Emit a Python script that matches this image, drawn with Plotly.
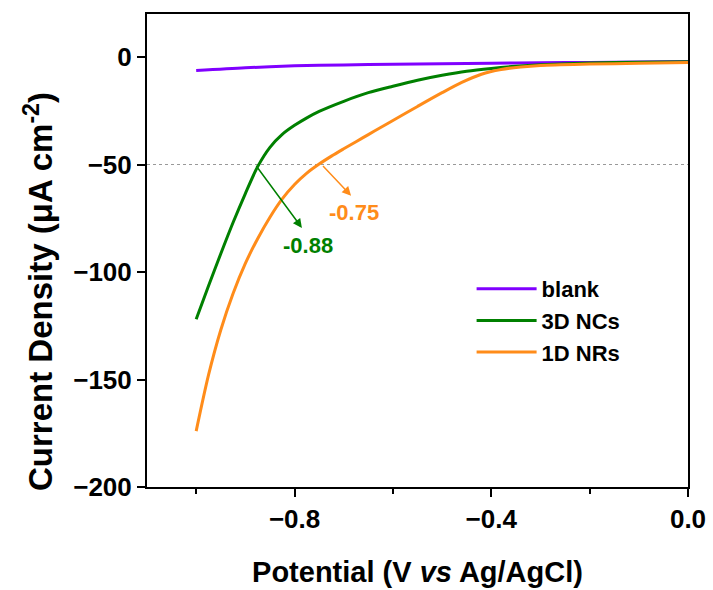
import plotly.graph_objects as go

# ---- data ----
x_blank = [-1.0, -0.9, -0.8, -0.7, -0.6, -0.5, -0.4, -0.3, -0.2, -0.1, 0.0]
y_blank = [-6.3, -5.0, -4.1, -3.7, -3.4, -3.1, -2.9, -2.7, -2.5, -2.3, -2.1]

x_3d = [-1.0, -0.975, -0.95, -0.925, -0.9, -0.875, -0.85, -0.825, -0.8, -0.775, -0.75,
        -0.7, -0.65, -0.6, -0.55, -0.5, -0.45, -0.4, -0.35, -0.3, -0.2, -0.1, 0.0]
y_3d = [-122, -106.5, -91.5, -77.0, -63.5, -51.0, -42.0, -36.0, -31.8, -28.3, -25.3,
        -20.6, -16.6, -13.6, -10.8, -8.5, -6.6, -5.3, -4.3, -3.6, -2.8, -2.4, -2.2]

x_1d = [-1.0, -0.975, -0.95, -0.925, -0.9, -0.875, -0.85, -0.825, -0.8, -0.775, -0.75,
        -0.725, -0.7, -0.675, -0.65, -0.625, -0.6, -0.55, -0.5, -0.46, -0.42, -0.38,
        -0.34, -0.3, -0.2, -0.1, 0.0]
y_1d = [-174, -148, -127, -110, -96, -84.5, -74.5, -66.0, -59.3, -54.0, -49.8,
        -46.1, -42.7, -39.4, -36.1, -32.8, -29.5, -23.0, -16.6, -11.8, -8.0, -5.8,
        -4.6, -3.9, -3.3, -2.9, -2.6]

ref_current = -50
onset_3d = -0.88
onset_1d = -0.75

names = ["blank", "3D NCs", "1D NRs"]
colors = ["#8000FF", "#008000", "#FF8C1A"]

FONT = "Liberation Sans, Arial, sans-serif"

fig = go.Figure()
for xs, ys, nm, c in [(x_blank, y_blank, names[0], colors[0]),
                      (x_3d, y_3d, names[1], colors[1]),
                      (x_1d, y_1d, names[2], colors[2])]:
    fig.add_trace(go.Scatter(x=xs, y=ys, mode="lines", name=nm,
                             line=dict(color=c, width=3, shape="spline", smoothing=0.8)))

# dotted reference line
fig.add_shape(type="line", xref="paper", x0=0, x1=1, yref="y", y0=ref_current, y1=ref_current,
              line=dict(color="#999999", width=1, dash="dot"), layer="below")

# arrows + labels
fig.add_annotation(x=-0.785, y=-79.5, ax=onset_3d, ay=ref_current, xref="x", yref="y",
                   axref="x", ayref="y", text="", showarrow=True, arrowhead=2,
                   arrowsize=1.2, arrowwidth=1.5, arrowcolor=colors[1])
fig.add_annotation(x=-0.685, y=-64.5, ax=onset_1d + 0.005, ay=ref_current, xref="x", yref="y",
                   axref="x", ayref="y", text="", showarrow=True, arrowhead=2,
                   arrowsize=1.2, arrowwidth=1.5, arrowcolor=colors[2])
fig.add_annotation(x=-0.772, y=-87.5, text=f"{onset_3d:.2f}", showarrow=False,
                   font=dict(family=FONT, size=22, color=colors[1], weight="bold"))
fig.add_annotation(x=-0.680, y=-72.5, text=f"{onset_1d:.2f}", showarrow=False,
                   font=dict(family=FONT, size=22, color=colors[2], weight="bold"))

# y-axis title as annotation
fig.add_annotation(xref="paper", yref="paper", x=-0.2, y=0.414, xanchor="center", yanchor="middle",
                   textangle=-90,
                   text="Current Density (μA cm<sup>-2</sup>)", showarrow=False,
                   font=dict(family=FONT, size=33, color="black", weight="bold"))

axis_common = dict(showline=True, linewidth=2, linecolor="black", mirror=True,
                   ticks="outside", tickwidth=2, ticklen=8, tickcolor="black",
                   showgrid=False, zeroline=False,
                   tickfont=dict(family=FONT, size=26, color="black", weight="bold"))

fig.update_xaxes(range=[-1.1, 0.0], tick0=0, dtick=0.4, tickformat=".1f",
                 minor=dict(dtick=0.2, tick0=0, ticks="outside", ticklen=5, tickwidth=2, tickcolor="black"),
                 title=dict(text="Potential (V <i>vs</i> Ag/AgCl)", standoff=28,
                            font=dict(family=FONT, size=29, color="black", weight="bold")),
                 **axis_common)
fig.update_yaxes(range=[-200, 20], tick0=0, dtick=50, **axis_common)

fig.update_layout(
    width=713, height=590,
    margin=dict(l=147, r=25, t=14, b=103, autoexpand=False),
    plot_bgcolor="white", paper_bgcolor="white",
    showlegend=True,
    legend=dict(x=0.60, y=0.463, xanchor="left", yanchor="top", bgcolor="rgba(0,0,0,0)",
                itemwidth=60, tracegroupgap=0,
                font=dict(family=FONT, size=22, color="black", weight="bold")),
)

fig.write_html("out.html")
